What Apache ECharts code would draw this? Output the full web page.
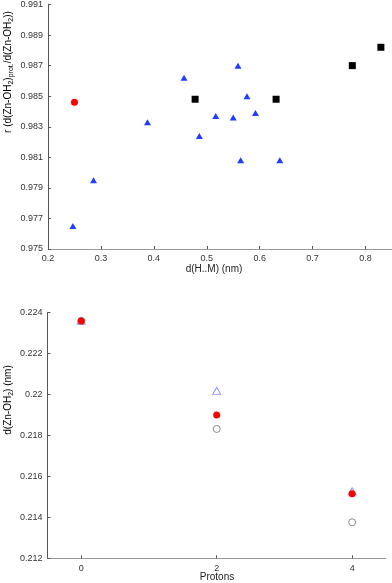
<!DOCTYPE html>
<html>
<head>
<meta charset="utf-8">
<script src="https://cdn.jsdelivr.net/npm/echarts@6/dist/echarts.min.js"></script>
<style>
html,body{margin:0;padding:0;background:#fff;}
#chart{width:392px;height:583px;}
</style>
</head>
<body>
<div id="chart"></div>
<script>
// ---- Top panel data: x = d(H..M) (nm), y = ratio ----
var triX = [0.247, 0.286, 0.388, 0.457, 0.486, 0.517, 0.550, 0.559, 0.564, 0.576, 0.592, 0.638];
var triY = [0.9765, 0.9795, 0.9833, 0.9862, 0.9824, 0.9837, 0.9836, 0.9870, 0.9808, 0.9850, 0.9839, 0.9808];
var circX = [0.250];
var circY = [0.9846];
var sqX = [0.478, 0.631, 0.775, 0.829];
var sqY = [0.9848, 0.9848, 0.9870, 0.9882];
var topXTicks = [0.2, 0.3, 0.4, 0.5, 0.6, 0.7, 0.8];
var topYTicks = [0.975, 0.977, 0.979, 0.981, 0.983, 0.985, 0.987, 0.989, 0.991];

// ---- Bottom panel data: x = protons, y = d(Zn-OH2) (nm) ----
var protons = [0, 2, 4];
var grayCirc = [0.22360, 0.21832, 0.21376];
var blueTri = [0.22360, 0.22018, 0.21527];
var redCirc = [0.22360, 0.21900, 0.21516];
var botXTicks = [0, 2, 4];
var botYTicks = [0.212, 0.214, 0.216, 0.218, 0.22, 0.222, 0.224];

function zip(a, b) { return a.map(function (v, i) { return [v, b[i]]; }); }

var FONT = 'Liberation Sans, Arial, Helvetica, sans-serif';
var lab = { fontFamily: FONT, fontSize: 9, color: '#333' };
var yLine = { show: true, onZero: false, lineStyle: { color: '#555', width: 1 } };
var xLine = { show: true, onZero: false, lineStyle: { color: '#999', width: 1 } };
var tick = { inside: true, length: 3, lineStyle: { color: '#555' } };

var richStyle = {
  n: { fontFamily: FONT, fontSize: 10, color: '#222', lineHeight: 12, verticalAlign: 'top' },
  s: { fontFamily: FONT, fontSize: 7, color: '#222', lineHeight: 8, padding: [7, 0, 0, 0], verticalAlign: 'bottom' }
};

var chart = echarts.init(document.getElementById('chart'), null, { renderer: 'canvas' });
chart.setOption({
  animation: false,
  backgroundColor: '#fff',
  grid: [
    { left: 48, right: 0, top: 4, height: 245 },
    { left: 47.4, right: 6, top: 312.7, height: 245.6 }
  ],
  xAxis: [
    { gridIndex: 0, type: 'value', min: 0.2, max: 0.85,
      axisLine: xLine, splitLine: { show: false },
      axisTick: Object.assign({ customValues: topXTicks }, tick),
      axisLabel: Object.assign({ customValues: topXTicks, margin: 5, formatter: function (v) { return (+v.toFixed(2)).toString(); } }, lab) },
    { gridIndex: 1, type: 'value', min: -0.5, max: 4.5,
      axisLine: xLine, splitLine: { show: false },
      axisTick: Object.assign({ customValues: botXTicks }, tick),
      axisLabel: Object.assign({ customValues: botXTicks, margin: 6 }, lab) }
  ],
  yAxis: [
    { gridIndex: 0, type: 'value', min: 0.975, max: 0.991,
      axisLine: yLine, splitLine: { show: false },
      axisTick: Object.assign({ customValues: topYTicks }, tick),
      axisLabel: Object.assign({ customValues: topYTicks, margin: 5, formatter: function (v) { return v.toFixed(3); } }, lab) },
    { gridIndex: 1, type: 'value', min: 0.212, max: 0.224,
      axisLine: yLine, splitLine: { show: false },
      axisTick: Object.assign({ customValues: botYTicks }, tick),
      axisLabel: Object.assign({ customValues: botYTicks, margin: 5, formatter: function (v) { return (+v.toFixed(3)).toString(); } }, lab) }
  ],
  series: [
    { type: 'scatter', xAxisIndex: 0, yAxisIndex: 0, data: zip(triX, triY),
      symbol: 'triangle', symbolSize: [7, 6], itemStyle: { color: '#1f3cff', opacity: 1 } },
    { type: 'scatter', xAxisIndex: 0, yAxisIndex: 0, data: zip(circX, circY),
      symbol: 'circle', symbolSize: 7, itemStyle: { color: '#ff0000', opacity: 1 } },
    { type: 'scatter', xAxisIndex: 0, yAxisIndex: 0, data: zip(sqX, sqY),
      symbol: 'rect', symbolSize: 7, itemStyle: { color: '#000', opacity: 1 } },
    { type: 'scatter', xAxisIndex: 1, yAxisIndex: 1, data: zip(protons, grayCirc),
      symbol: 'circle', symbolSize: 7, itemStyle: { color: '#fff', borderColor: '#888', borderWidth: 1, opacity: 1 } },
    { type: 'scatter', xAxisIndex: 1, yAxisIndex: 1, data: zip(protons, blueTri),
      symbol: 'triangle', symbolSize: [8, 7], itemStyle: { color: 'rgba(255,255,255,0)', borderColor: '#8f8fff', borderWidth: 1, opacity: 1 } },
    { type: 'scatter', xAxisIndex: 1, yAxisIndex: 1, data: zip(protons, redCirc),
      symbol: 'circle', symbolSize: 7, itemStyle: { color: '#ff0000', opacity: 1 } }
  ],
  graphic: [
    { type: 'text', x: 214, y: 269,
      style: { text: 'd(H..M) (nm)', font: '10px ' + FONT, fill: '#222', align: 'center', verticalAlign: 'middle' } },
    { type: 'text', x: 217, y: 577,
      style: { text: 'Protons', font: '10px ' + FONT, fill: '#222', align: 'center', verticalAlign: 'middle' } },
    { type: 'text', x: 9, y: 72, rotation: Math.PI / 2,
      style: { text: '{n|r (d(Zn-OH}{s|2}{n|)}{s|prot.}{n|/d(Zn-OH}{s|2}{n|))}', rich: richStyle, align: 'center', verticalAlign: 'middle' } },
    { type: 'text', x: 9, y: 400, rotation: Math.PI / 2,
      style: { text: '{n|d(Zn-OH}{s|2}{n|) (nm)}', rich: richStyle, align: 'center', verticalAlign: 'middle' } }
  ]
});
</script>
</body>
</html>
